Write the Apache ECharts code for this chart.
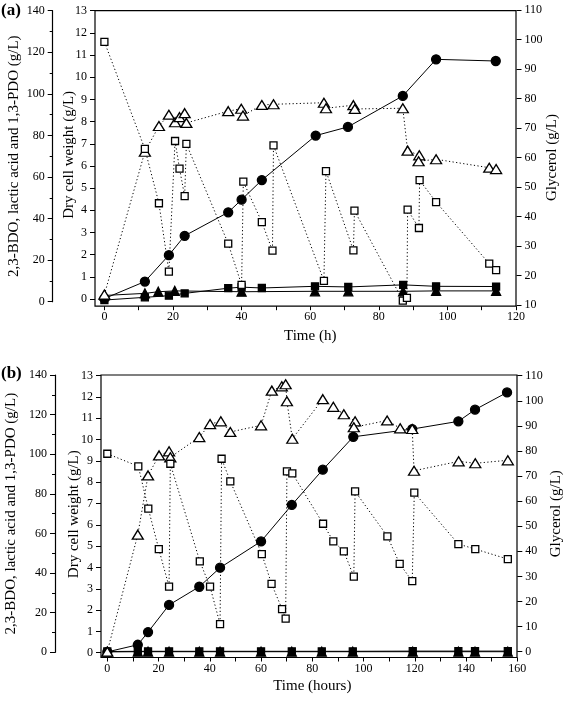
<!DOCTYPE html>
<html><head><meta charset="utf-8">
<script src="https://cdn.jsdelivr.net/npm/echarts@6/dist/echarts.min.js"></script>
<style>html,body{margin:0;padding:0;background:#fff}#c{width:567px;height:707px}</style>
</head><body><div id="c"></div>
<script>
// ---------- Panel (a) ----------
const aBdoT = [0, 11.8, 18.8, 23.4, 36.1, 40.0, 45.9, 61.6, 71.0, 87.0, 96.7, 114.1];
const aBdoV = [1.5, 9.7, 22.4, 31.7, 43.0, 49.1, 58.5, 79.9, 84.1, 99.0, 116.6, 115.8];
const aLacT = [0, 11.8, 18.8, 23.4, 36.1, 40.0, 45.9, 61.4, 71.1, 87.1, 96.7, 114.2];
const aLacV = [0.8, 2.1, 2.9, 4.0, 6.5, 7.0, 6.6, 7.4, 7.1, 8.1, 7.4, 7.3];
const aPdoT = [0, 11.8, 15.7, 20.5, 40.0, 61.4, 71.1, 87.1, 96.7, 114.2];
const aPdoV = [3.0, 4.0, 4.8, 5.2, 4.8, 5.0, 5.0, 5.0, 5.2, 5.2];
const aDcwT = [0, 11.8, 15.9, 18.8, 20.6, 21.9, 23.4, 23.9, 36.1, 39.9, 40.4, 45.9, 49.3, 64.0, 64.6, 72.6, 73.0, 87.0, 88.4, 91.8, 91.6, 96.7, 112.2, 114.2];
const aDcwV = [0.2, 6.64, 7.8, 8.31, 7.97, 8.2, 8.38, 7.94, 8.47, 8.58, 8.27, 8.75, 8.78, 8.85, 8.6, 8.74, 8.57, 8.6, 6.69, 6.48, 6.21, 6.30, 5.92, 5.86];
const aGlyT = [0, 11.8, 15.9, 18.8, 20.6, 21.9, 23.4, 23.9, 36.1, 40.0, 40.5, 45.9, 49.0, 49.3, 64.0, 64.6, 72.6, 72.9, 87.0, 88.2, 88.4, 91.7, 91.9, 96.7, 112.2, 114.2];
const aGlyV = [99.2, 62.9, 44.5, 21.3, 65.6, 56.2, 46.9, 64.6, 30.8, 16.8, 51.8, 38.1, 28.4, 64.1, 18.2, 55.4, 28.5, 42.0, 11.5, 12.4, 42.3, 36.1, 52.3, 44.9, 24.0, 21.8];

// ---------- Panel (b) ----------
const bBdoT = [0, 11.9, 15.9, 24.1, 35.9, 44.0, 60.0, 72.0, 84.1, 96.0, 119.0, 137.0, 143.5, 156.0];
const bBdoV = [0.2, 3.8, 10.2, 23.9, 33.1, 42.7, 56.0, 74.4, 92.2, 108.8, 112.7, 116.6, 122.5, 131.2];
const bLacT = [0, 11.9, 15.9, 24.1, 35.9, 44.0, 60.0, 72.0, 83.7, 95.8, 119.2, 137.0, 143.5, 156.3];
const bLacV = [0.4, 0.5, 0.5, 0.5, 0.5, 0.5, 0.5, 0.5, 0.5, 0.5, 0.6, 0.6, 0.6, 0.6];
const bPdoT = [0, 11.9, 15.9, 24.1, 35.9, 44.0, 60.0, 72.0, 83.7, 95.8, 119.2, 137.0, 143.5, 156.3];
const bPdoV = [0.2, 0.3, 0.3, 0.3, 0.3, 0.3, 0.3, 0.3, 0.3, 0.3, 0.3, 0.3, 0.3, 0.3];
const bDcwT = [0, 11.9, 15.9, 20.2, 24.1, 24.6, 35.9, 40.1, 44.3, 48.0, 60.0, 64.2, 68.1, 69.6, 70.1, 72.2, 84.1, 88.2, 92.3, 96.7, 96.2, 109.2, 114.3, 119.0, 119.7, 137.1, 143.6, 156.3];
const bDcwV = [0.05, 5.54, 8.32, 9.26, 9.45, 9.17, 10.12, 10.73, 10.86, 10.36, 10.67, 12.3, 12.5, 12.6, 11.8, 10.04, 11.9, 11.54, 11.19, 10.86, 10.58, 10.9, 10.53, 10.5, 8.54, 8.98, 8.89, 9.03];
const bGlyT = [0, 12.1, 16.0, 20.1, 24.1, 24.6, 36.1, 40.1, 44.0, 44.6, 48.0, 60.3, 64.1, 68.2, 69.6, 70.1, 72.2, 84.2, 88.2, 92.3, 96.2, 96.7, 109.3, 114.1, 119.0, 119.8, 137.0, 143.6, 156.3];
const bGlyV = [78.9, 73.9, 57.0, 40.9, 25.9, 74.9, 36.0, 25.9, 11.0, 76.9, 67.9, 38.9, 27.0, 17.0, 13.2, 71.9, 71.1, 51.0, 44.0, 40.0, 29.9, 63.9, 46.0, 35.0, 28.1, 63.4, 42.9, 40.9, 36.9];

// axis labels / titles
const leftTitle = '2,3-BDO, lactic acid and 1,3-PDO (g/L)';
const dcwTitle = 'Dry cell weight (g/L)';
const glyTitle = 'Glycerol (g/L)';
const aXTitle = 'Time (h)';
const bXTitle = 'Time (hours)';

const FONT = 'Liberation Serif';
const zip = (t, v) => t.map((x, i) => [x, v[i]]);

const lbl = {fontFamily: FONT, fontSize: 12, color: '#000'};
const nameStyle = {fontFamily: FONT, fontSize: 15, color: '#000'};

function hiddenX(gi, max) {
  return {gridIndex: gi, type: 'value', min: 0, max: max, show: false, splitLine: {show: false}};
}
function hiddenY(gi, min, max) {
  return {gridIndex: gi, type: 'value', min: min, max: max, show: false, splitLine: {show: false}};
}
function visX(gi, max, offset, name, gap) {
  return {gridIndex: gi, type: 'value', min: 0, max: max, interval: 20, offset: offset,
    name: name, nameLocation: 'middle', nameGap: gap, nameTextStyle: nameStyle, nameMoveOverlap: false,
    axisLine: {show: false, onZero: false}, splitLine: {show: false},
    axisTick: {show: true, inside: false, length: 4, lineStyle: {color: '#000', width: 1}},
    minorTick: {show: true, splitNumber: 2, length: 4, lineStyle: {color: '#000', width: 1}},
    axisLabel: Object.assign({margin: 5}, lbl)};
}
function leftOuterY(gi, offset, gap) {
  return {gridIndex: gi, type: 'value', position: 'left', min: 0, max: 140, interval: 20, offset: offset,
    name: leftTitle, nameLocation: 'middle', nameGap: gap, nameTextStyle: nameStyle, nameMoveOverlap: false,
    axisLine: {show: true, onZero: false, lineStyle: {color: '#000', width: 1.2}}, splitLine: {show: false},
    axisTick: {show: true, inside: false, length: 5, lineStyle: {color: '#000', width: 1}},
    minorTick: {show: true, splitNumber: 2, length: 3, lineStyle: {color: '#000', width: 1}},
    axisLabel: Object.assign({margin: 8}, lbl)};
}
function dcwY(gi, offset, gap) {
  return {gridIndex: gi, type: 'value', position: 'left', min: 0, max: 13, interval: 1, offset: offset,
    name: dcwTitle, nameLocation: 'middle', nameGap: gap, nameTextStyle: nameStyle, nameMoveOverlap: false,
    axisLine: {show: false, onZero: false}, splitLine: {show: false},
    axisTick: {show: true, inside: false, length: 5, lineStyle: {color: '#000', width: 1}},
    axisLabel: Object.assign({margin: 8}, lbl)};
}
function glyY(gi, min, offset, gap) {
  return {gridIndex: gi, type: 'value', position: 'right', min: min, max: 110, interval: 10, offset: offset,
    name: glyTitle, nameLocation: 'middle', nameGap: gap, nameTextStyle: nameStyle, nameMoveOverlap: false,
    axisLine: {show: false, onZero: false}, splitLine: {show: false},
    axisTick: {show: true, inside: false, length: 5, lineStyle: {color: '#000', width: 1}},
    axisLabel: Object.assign({margin: 8}, lbl)};
}
function ser(xi, yi, t, v, sym, size, filled, dotted, z) {
  return {type: 'line', xAxisIndex: xi, yAxisIndex: yi, data: zip(t, v),
    symbol: sym, symbolSize: size, showSymbol: true, z: z, clip: false,
    lineStyle: {color: '#000', width: 1, type: dotted ? [1.2, 2.4] : 'solid'},
    itemStyle: {color: filled ? '#000' : '#fff', borderColor: '#000', borderWidth: 1.3, opacity: 1},
    emphasis: {disabled: true}, animation: false};
}

const G = {outerBoundsMode: 'none', containLabel: false};
const grids = [
  // panel a
  Object.assign({left: 95, top: 10.7, width: 421, height: 295.5, show: true, borderColor: '#000', borderWidth: 1.2, backgroundColor: 'transparent'}, G),
  Object.assign({left: 104.4, top: 10.7, width: 411.6, height: 291}, G),
  Object.assign({left: 104.4, top: 10.7, width: 411.6, height: 288.3}, G),
  Object.assign({left: 104.4, top: 10, width: 411.6, height: 295}, G),
  // panel b
  Object.assign({left: 101, top: 375, width: 416, height: 282.5, show: true, borderColor: '#000', borderWidth: 1.2, backgroundColor: 'transparent'}, G),
  Object.assign({left: 107.3, top: 375, width: 410, height: 277.3}, G),
  Object.assign({left: 107.3, top: 375.7, width: 410, height: 277}, G),
  Object.assign({left: 107.3, top: 375.7, width: 410, height: 276}, G)
];

const xAxes = [
  hiddenX(0, 1),
  visX(1, 120, 4.5, aXTitle, 22),
  hiddenX(2, 120),
  hiddenX(3, 120),
  hiddenX(4, 1),
  visX(5, 160, 5.2, bXTitle, 21),
  hiddenX(6, 160),
  hiddenX(7, 160)
];
const yAxes = [
  hiddenY(0, 0, 1),
  leftOuterY(1, 51.7, 31),
  dcwY(2, 9.4, 18),
  glyY(3, 10, 0.5, 28.5),
  hiddenY(4, 0, 1),
  leftOuterY(5, 52.3, 36),
  dcwY(6, 6.3, 19.5),
  glyY(7, 0, 0, 31.5)
];

const series = [
  ser(1, 1, aLacT, aLacV, 'rect', 7, true, false, 3),
  ser(1, 1, aPdoT, aPdoV, 'triangle', 9, true, false, 3),
  ser(1, 1, aBdoT, aBdoV, 'circle', 9, true, false, 4),
  ser(2, 2, aDcwT, aDcwV, 'triangle', [11, 9], false, true, 5),
  ser(3, 3, aGlyT, aGlyV, 'rect', 7, false, true, 5),
  ser(5, 5, bLacT, bLacV, 'rect', 7, true, false, 3),
  ser(5, 5, bPdoT, bPdoV, 'triangle', 9, true, false, 3),
  ser(5, 5, bBdoT, bBdoV, 'circle', 9, true, false, 4),
  ser(6, 6, bDcwT, bDcwV, 'triangle', [11, 9], false, true, 5),
  ser(7, 7, bGlyT, bGlyV, 'rect', 7, false, true, 5)
];

const chart = echarts.init(document.getElementById('c'), null, {renderer: 'canvas'});
chart.setOption({
  animation: false,
  backgroundColor: '#fff',
  grid: grids,
  xAxis: xAxes,
  yAxis: yAxes,
  series: series,
  graphic: [
    {type: 'text', left: 1, top: 2, style: {text: '(a)', font: 'bold 17px "Liberation Serif"', fill: '#000'}},
    {type: 'text', left: 1, top: 365, style: {text: '(b)', font: 'bold 17px "Liberation Serif"', fill: '#000'}}
  ]
});
</script>
</body></html>
